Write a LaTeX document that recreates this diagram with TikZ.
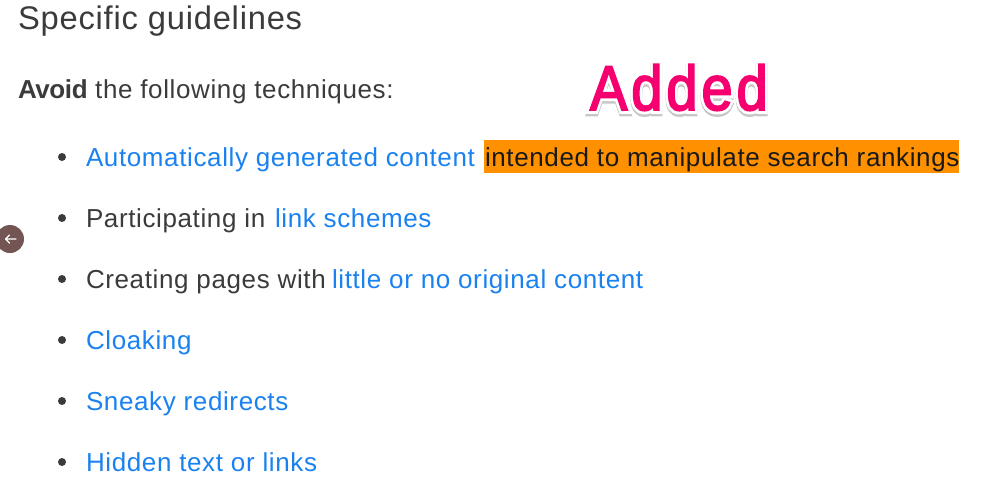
\documentclass[tikz,border=0pt]{standalone}
\usepackage{fontspec}
\setmainfont[LetterSpace=2.4,BoldFeatures={LetterSpace=-1.5}]{Liberation Sans}
\newfontfamily\addedfont[FakeBold=3,LetterSpace=7]{Liberation Sans}
\newfontfamily\addedwhite[FakeBold=12,LetterSpace=7]{Liberation Sans}
\definecolor{linkblue}{HTML}{1A82F0}
\definecolor{bodyink}{HTML}{3A3B3D}
\definecolor{hilite}{HTML}{FF9000}
\definecolor{addedpink}{HTML}{F5006E}
\definecolor{backbtn}{HTML}{735554}
\tikzset{
  x=1pt,y=-1pt,
  txt/.style={anchor=base west,inner sep=0pt,outer sep=0pt,text=bodyink,font=\fontsize{26}{30}\selectfont},
  lnk/.style={txt,text=linkblue},
  bul/.style={circle,fill=bodyink,inner sep=0pt,minimum size=8pt},
  addedbase/.style={txt,xscale=.89,transform shape,font=\addedwhite\fontsize{63}{70}\selectfont},
}
\begin{document}
\begin{tikzpicture}
\useasboundingbox (0,0) rectangle (981,482);
\fill[white] (0,0) rectangle (981,482);
\node[txt,font=\fontsize{32.7}{38}\selectfont] (title) at (18,29) {Specific guidelines};
\node[txt] (avoid) at (18,98) {\textbf{Avoid} the following techniques:};
% Added label
\node[addedbase,text=black!22] (addedshadow) at (590,112.5) {Added};
\node[addedbase,text=white] (addedhalo) at (590,110) {Added};
\node[addedbase,font=\addedfont\fontsize{63}{70}\selectfont,text=addedpink] (added) at (590,110) {Added};
% bullets
\node[bul] (b1) at (62,157) {};
\node[bul] (b2) at (62,218) {};
\node[bul] (b3) at (62,279) {};
\node[bul] (b4) at (62,340) {};
\node[bul] (b5) at (62,401) {};
\node[bul] (b6) at (62,462) {};
% item 1
\node[lnk] (i1) at (86,166) {Automatically generated content};
\fill[hilite] (484,140) rectangle (959,173);
\node[txt,text=black!90] (i1b) at (485,166) {intended to manipulate search rankings};
% item 2
\node[txt] (i2) at (86,227) {Participating in};
\node[lnk] (i2b) at (275,227) {link schemes};
% item 3
\node[txt] (i3) at (86,288) {Creating pages with};
\node[lnk] (i3b) at (332,288) {little or no original content};
\node[lnk] (i4) at (86,349) {Cloaking};
\node[lnk] (i5) at (86,410) {Sneaky redirects};
\node[lnk] (i6) at (86,471) {Hidden text or links};
% back button
\fill[backbtn] (10,239) circle (14);
\draw[white,line width=1.4pt,line cap=round,line join=round] (16,239) -- (5.5,239) (9.5,235) -- (5.5,239) -- (9.5,243);
\end{tikzpicture}
\end{document}
